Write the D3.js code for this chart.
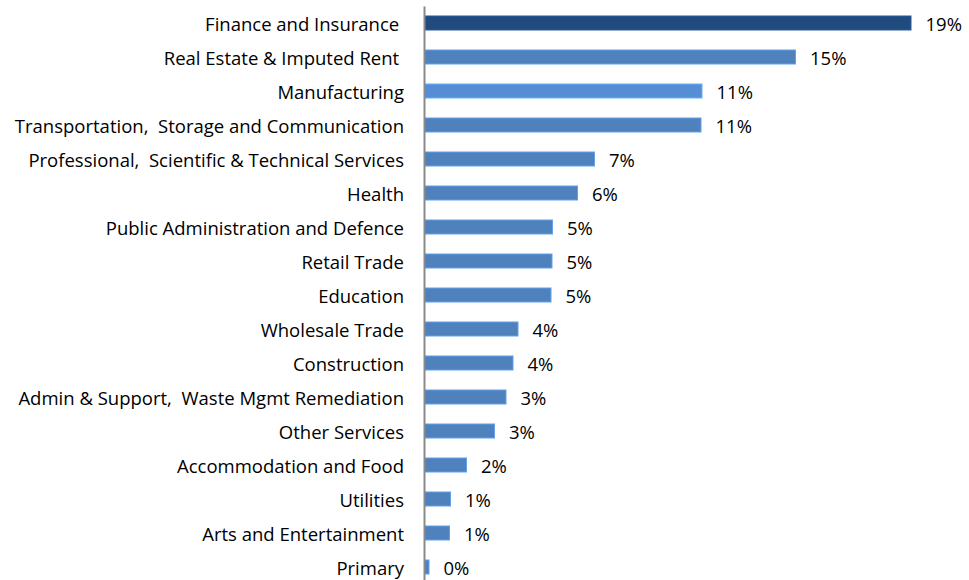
<!DOCTYPE html>
<html>
<head>
<meta charset="utf-8">
<script src="https://cdn.jsdelivr.net/npm/d3@7"></script>
<style>
  html, body { margin: 0; padding: 0; background: #ffffff; }
  svg { display: block; }
  text { font-family: "Open Sans", "Noto Sans", sans-serif; fill: #000; white-space: pre; }
</style>
</head>
<body>
<svg id="chart" width="969" height="580"></svg>
<script>
// Sector shares of output, largest first
const sectors = [
  "Finance and Insurance ",
  "Real Estate & Imputed Rent ",
  "Manufacturing",
  "Transportation,  Storage and Communication",
  "Professional,  Scientific & Technical Services",
  "Health",
  "Public Administration and Defence",
  "Retail Trade",
  "Education",
  "Wholesale Trade",
  "Construction",
  "Admin & Support,  Waste Mgmt Remediation",
  "Other Services",
  "Accommodation and Food",
  "Utilities",
  "Arts and Entertainment",
  "Primary"
];
const shares = [
  0.1946, 0.1484, 0.1110, 0.1106, 0.0680, 0.0612, 0.0512, 0.0510, 0.0506,
  0.0374, 0.0354, 0.0326, 0.0280, 0.0168, 0.0104, 0.0100, 0.0018
];
const barColors = [
  "#214A7E", "#4F81BD", "#558ED5", "#4F81BD", "#4F81BD", "#4F81BD", "#4F81BD",
  "#4F81BD", "#4F81BD", "#4F81BD", "#4F81BD", "#4F81BD", "#4F81BD", "#4F81BD",
  "#4F81BD", "#4F81BD", "#4F81BD"
];

const rows = sectors.map((name, i) => ({ name, value: shares[i], color: barColors[i] }));

const svg = d3.select("#chart");
const axisX = 424;
const fontSize = 18.5;

const x = d3.scaleLinear().domain([0, 0.2]).range([axisX, axisX + 500]);
const y = d3.scaleBand()
  .domain(sectors)
  .range([6, 584])
  .paddingInner(20 / 34)
  .paddingOuter(10 / 34);

const pct = d3.format(".0%");

// Bars
svg.append("g")
  .selectAll("rect")
  .data(rows)
  .join("rect")
  .attr("x", x(0) + 0.5)
  .attr("y", d => y(d.name))
  .attr("width", d => x(d.value) - x(0))
  .attr("height", y.bandwidth())
  .attr("fill", d => d.color)
  .attr("stroke", d => d3.color(d.color).brighter(0.6))
  .attr("stroke-width", 1);

// Value labels
svg.append("g")
  .selectAll("text")
  .data(rows)
  .join("text")
  .attr("x", d => x(d.value) + 15)
  .attr("y", d => y(d.name) + y.bandwidth() / 2)
  .attr("dy", "0.41em")
  .attr("font-size", fontSize)
  .text(d => pct(d.value));

// Category axis
const yAxis = d3.axisLeft(y).tickSize(0).tickPadding(20);
const gy = svg.append("g")
  .attr("transform", `translate(${axisX},0)`)
  .call(yAxis);
gy.select(".domain").attr("stroke", "#898989").attr("stroke-width", 2);
gy.selectAll(".tick text")
  .attr("font-size", fontSize)
  .attr("font-family", "'Open Sans', 'Noto Sans', sans-serif")
  .attr("fill", "#000")
  .attr("dy", "0.41em");
</script>
</body>
</html>
